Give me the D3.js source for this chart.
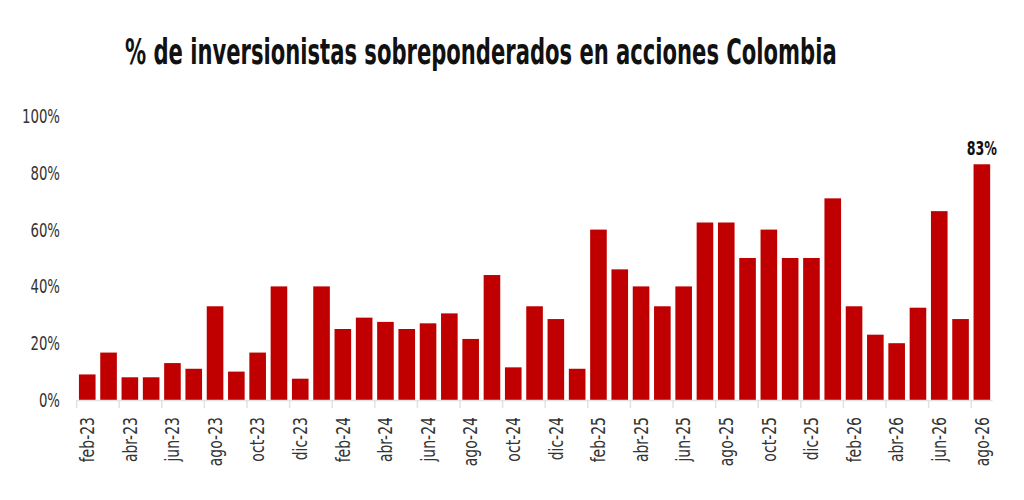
<!DOCTYPE html>
<html>
<head>
<meta charset="utf-8">
<script src="https://cdn.jsdelivr.net/npm/d3@7"></script>
<style>
  body { margin: 0; background: #fff; }
  svg { display: block; }
  .lbl { font-family: "Liberation Sans Narrow", "DejaVu Sans Condensed", "DejaVu Sans", sans-serif; }
</style>
</head>
<body>
<svg width="1024" height="500"></svg>
<script>
var months = [
    "feb-23", "mar-23", "abr-23", "may-23", "jun-23", "jul-23", "ago-23", "sep-23", "oct-23", "nov-23", "dic-23",
    "ene-24", "feb-24", "mar-24", "abr-24", "may-24", "jun-24", "jul-24", "ago-24", "sep-24", "oct-24", "nov-24", "dic-24",
    "ene-25", "feb-25", "mar-25", "abr-25", "may-25", "jun-25", "jul-25", "ago-25", "sep-25", "oct-25", "nov-25", "dic-25",
    "ene-26", "feb-26", "mar-26", "abr-26", "may-26", "jun-26", "jul-26", "ago-26"
];

var values = [
    9, 16.7, 8, 8, 13, 11, 33, 10, 16.7, 40, 7.5,
    40, 25, 29, 27.5, 25, 27, 30.5, 21.5, 44, 11.5, 33, 28.5,
    11, 60, 46, 40, 33, 40, 62.5, 62.5, 50, 60, 50, 50,
    71, 33, 23, 20, 32.5, 66.5, 28.5, 83
];

var yTicks = [0, 20, 40, 60, 80, 100];
var highlight = "ago-26";

var data = months.map(function(m, i) { return { month: m, value: values[i] }; });

var svg = d3.select("svg");

var pad = 0.22;
var xScale = d3.scaleBand()
    .domain(months)
    .range([76.6, 992.5])
    .paddingInner(pad)
    .paddingOuter(pad / 2);

var yScale = d3.scaleLinear()
    .domain([0, 100])
    .range([400, 116]);

// title, squeezed horizontally to look like the condensed face
var title = svg.append("g")
    .attr("transform", "translate(125,64)");
var titleText = title.append("text")
    .attr("class", "lbl")
    .style("font-size", "35px")
    .style("font-weight", "bold")
    .style("fill", "#111")
    .text("% de inversionistas sobreponderados en acciones Colombia");
var tw = titleText.node().getComputedTextLength();
titleText.attr("transform", "scale(" + (712 / tw) + ",1)");

// bars
svg.selectAll("rect.bar")
    .data(data)
    .enter().append("rect")
    .attr("class", "bar")
    .attr("x", function(d) { return xScale(d.month); })
    .attr("y", function(d) { return yScale(d.value); })
    .attr("width", xScale.bandwidth())
    .attr("height", function(d) { return yScale(0) - yScale(d.value); })
    .attr("fill", "#c00000");

// baseline and tick marks between categories
var labelMonths = months.filter(function(m, i) { return i % 2 === 0; });
var halfGap = xScale.step() * pad / 2;

svg.append("line")
    .attr("x1", xScale.range()[0])
    .attr("x2", xScale.range()[1])
    .attr("y1", yScale(0) + 0.5)
    .attr("y2", yScale(0) + 0.5)
    .attr("stroke", "#e2e2e2")
    .attr("stroke-width", 1.5);

svg.selectAll("line.tick-mark")
    .data(labelMonths)
    .enter().append("line")
    .attr("class", "tick-mark")
    .attr("x1", function(d) { return xScale(d) - halfGap; })
    .attr("x2", function(d) { return xScale(d) - halfGap; })
    .attr("y1", yScale(0))
    .attr("y2", yScale(0) + 8)
    .attr("stroke", "#e2e2e2")
    .attr("stroke-width", 1.5);

// x axis labels
var xAxis = d3.axisBottom(xScale)
    .tickValues(labelMonths)
    .tickSize(0)
    .tickPadding(0);

var gx = svg.append("g")
    .attr("transform", "translate(0," + (yScale(0) + 17) + ")")
    .call(xAxis);
gx.select(".domain").remove();
gx.selectAll("text")
    .attr("class", "lbl")
    .attr("transform", "rotate(-90) scale(0.82,1)")
    .attr("x", 0)
    .attr("y", 0)
    .attr("dy", "0.35em")
    .style("text-anchor", "end")
    .style("font-size", "19px")
    .style("fill", "#333");

// y axis
var yAxis = d3.axisLeft(yScale)
    .tickValues(yTicks)
    .tickSize(0)
    .tickPadding(0)
    .tickFormat(function(d) { return d + "%"; });

var gy = svg.append("g")
    .attr("transform", "translate(60,0)")
    .call(yAxis);
gy.select(".domain").remove();
gy.selectAll("text")
    .attr("class", "lbl")
    .attr("x", 0)
    .attr("transform", "scale(0.74,1)")
    .style("font-size", "20px")
    .style("fill", "#333");

// value label on the last bar
var last = data.filter(function(d) { return d.month === highlight; })[0];
svg.append("text")
    .attr("class", "lbl")
    .attr("transform", "translate(" + (xScale(last.month) + xScale.bandwidth() / 2) + "," + (yScale(last.value) - 9) + ") scale(0.74,1)")
    .style("text-anchor", "middle")
    .style("font-size", "19px")
    .style("font-weight", "bold")
    .style("fill", "#111")
    .text(Math.round(last.value) + "%");
</script>
</body>
</html>
